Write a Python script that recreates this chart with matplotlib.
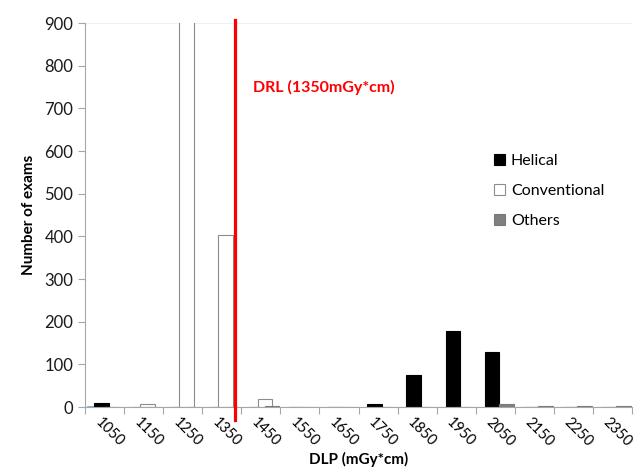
import numpy as np
import matplotlib.pyplot as plt
from matplotlib.patches import Patch

plt.rcParams['font.family'] = ['Lato', 'DejaVu Sans']

categories = ['1050', '1150', '1250', '1350', '1450', '1550', '1650',
              '1750', '1850', '1950', '2050', '2150', '2250', '2350']
unlabeled = [2, 0, 0, 0, 0, 0, 0, 0, 0, 0, 0, 0, 0, 0]
helical = [9, 0, 0, 0, 1, 1, 1, 8, 76, 178, 128, 0, 0, 0]
conventional = [0, 6, 1100, 402, 19, 1, 0, 0, 0, 0, 0, 0, 0, 0]
others = [0, 1, 0, 1, 2, 1, 1, 0, 0, 1, 6, 3, 2, 3]
drl_label = 'DRL (1350mGy*cm)'
drl_category = '1350'

fig = plt.figure(figsize=(6.4, 4.69), dpi=100)
ax = fig.add_axes([85/640, 1-407/469, 547/640, 384/469])

x = np.arange(len(categories))
w = 0.375
left0 = -0.5 + 0.04
axis_gray = '#a6a6a6'

series = [
    (unlabeled, '#8eb4e3', '#8eb4e3'),
    (helical, 'black', 'black'),
    (conventional, 'white', '#8c8c8c'),
    (others, '#808080', '#7a7a7a'),
]
for k, (vals, fc, ec) in enumerate(series):
    ax.bar(x + left0 + k * w / 2, vals, width=w, align='edge',
           color=fc, edgecolor=ec, linewidth=0.8)

ax.set_xlim(-0.5, len(categories) - 0.5)
ax.set_ylim(0, 900)
ax.set_yticks(np.arange(0, 901, 100))

# category boundaries as tick marks, labels at centres
ax.set_xticks(np.arange(-0.5, len(categories)), minor=True)
ax.set_xticks(x + 0.12)
ax.set_xticklabels(categories, rotation=-45, ha='center', va='top', fontsize=10.5)
ax.tick_params(axis='x', which='major', length=0, pad=6)
ax.tick_params(axis='x', which='minor', length=5, color=axis_gray, width=0.8)
ax.tick_params(axis='y', length=5, color=axis_gray, width=0.8, labelsize=12,
               labelcolor='#1a1a1a')

for s in ['top', 'right']:
    ax.spines[s].set_visible(False)
for s in ['left', 'bottom']:
    ax.spines[s].set_color(axis_gray)
    ax.spines[s].set_linewidth(0.8)
ax.axhline(900, color='#f0f0f0', lw=0.8, zorder=0)

# DRL line (drawn slightly right of the category centre as in the source)
drl_x = categories.index(drl_category) + 0.33
ax.plot([drl_x, drl_x], [-30, 908], color='#ff0000', lw=2.3, clip_on=False, zorder=5)
ax.text(drl_x + 0.46, 750, drl_label, color='#ff0000', fontsize=11.5,
        fontweight='bold', ha='left', va='center')

ax.set_ylabel('Number of exams', fontsize=11, fontweight='bold', labelpad=6)
ax.set_xlabel('DLP (mGy*cm)', fontsize=11, fontweight='bold', labelpad=2)

handles = [Patch(facecolor='black', edgecolor='black', lw=0.8),
           Patch(facecolor='white', edgecolor='#8c8c8c', lw=0.8),
           Patch(facecolor='#808080', edgecolor='#7a7a7a', lw=0.8)]
fig.legend(handles, ['Helical', 'Conventional', 'Others'],
           loc='upper left', bbox_to_anchor=(494/640, 1-154/469),
           frameon=False, fontsize=11.5, handlelength=0.7, handleheight=0.7,
           handletextpad=0.35, labelspacing=1.0, borderpad=0, borderaxespad=0)

fig.savefig('out.png', dpi=100)
